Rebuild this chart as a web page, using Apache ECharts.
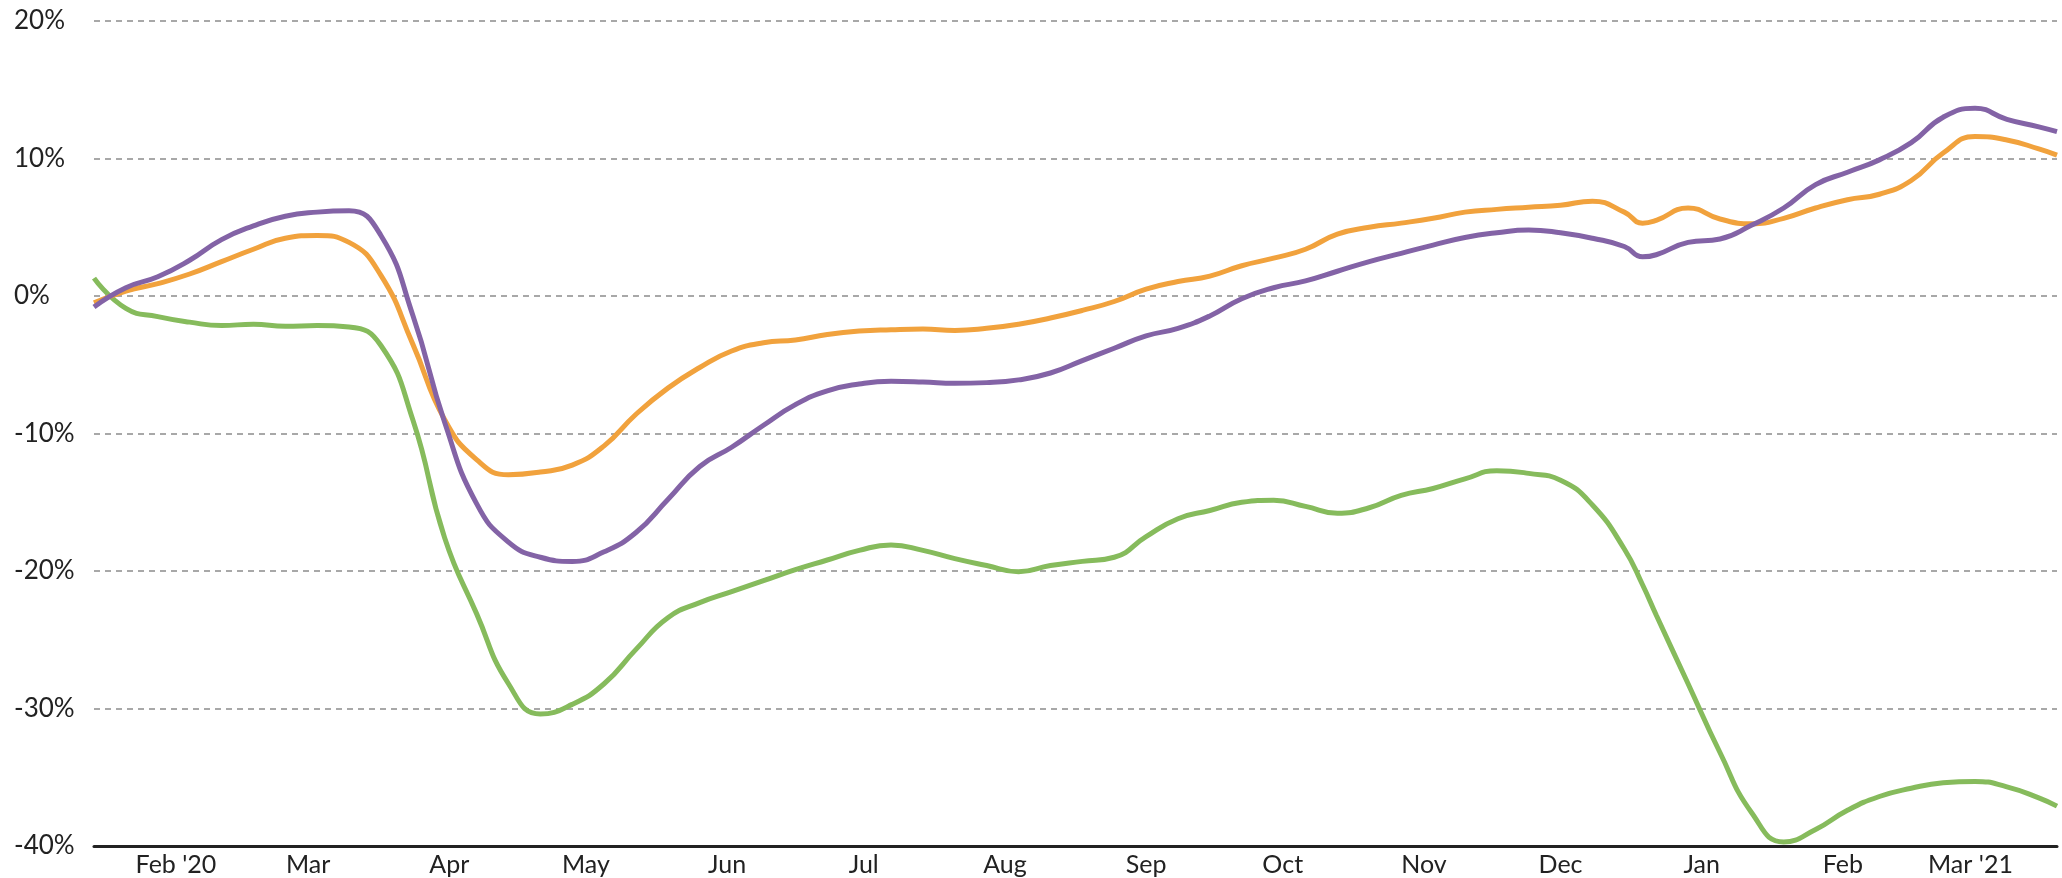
<!DOCTYPE html>
<html>
<head>
<meta charset="utf-8">
<title>chart</title>
<script src="https://cdn.jsdelivr.net/npm/echarts@6/dist/echarts.min.js"></script>
<style>
  html, body { margin: 0; padding: 0; background: #fff; }
  #chart { width: 2062px; height: 878px; }
</style>
</head>
<body>
<div id="chart"></div>
<script>
// weekly sample dates (plus one extra around New Year)
var dates = ['2020-01-28','2020-02-04','2020-02-11','2020-02-18','2020-02-25','2020-03-03','2020-03-10','2020-03-17','2020-03-24','2020-03-31',
  '2020-04-07','2020-04-14','2020-04-21','2020-04-28','2020-05-05','2020-05-12','2020-05-19','2020-05-26','2020-06-02','2020-06-09',
  '2020-06-16','2020-06-23','2020-06-30','2020-07-07','2020-07-14','2020-07-21','2020-07-28','2020-08-04','2020-08-11','2020-08-18',
  '2020-08-25','2020-09-01','2020-09-08','2020-09-15','2020-09-22','2020-09-29','2020-10-06','2020-10-13','2020-10-20','2020-10-27',
  '2020-11-03','2020-11-10','2020-11-17','2020-11-24','2020-12-01','2020-12-08','2020-12-15','2020-12-22','2020-12-29','2021-01-02',
  '2021-01-05','2021-01-12','2021-01-19','2021-01-26','2021-02-02','2021-02-09','2021-02-16','2021-02-23','2021-03-02','2021-03-09',
  '2021-03-16','2021-03-23','2021-03-30','2021-04-03'];

var purple = [-0.8,0.6,1.4,2.6,4.1,5.1,5.8,6.1,6.2,4.4,
  -1.4,-9.2,-15.1,-17.9,-19.0,-19.3,-18.6,-17.2,-14.8,-12.4,
  -11.0,-9.4,-7.9,-6.9,-6.4,-6.2,-6.25,-6.35,-6.3,-6.1,
  -5.6,-4.7,-3.8,-2.9,-2.35,-1.45,-0.2,0.6,1.1,1.8,
  2.5,3.1,3.7,4.25,4.6,4.8,4.6,4.2,3.6,2.85,
  3.0,3.9,4.15,5.16,6.4,8.1,9.0,9.9,11.15,13.0,
  13.65,12.85,12.3,11.95];

var orange = [-0.5,0.35,0.9,1.6,2.5,3.4,4.2,4.4,3.9,1.5,
  -3.5,-9.0,-11.9,-13.0,-12.8,-12.3,-10.9,-8.6,-6.7,-5.2,
  -4.0,-3.4,-3.2,-2.8,-2.55,-2.45,-2.4,-2.5,-2.35,-2.05,
  -1.6,-1.05,-0.4,0.5,1.05,1.45,2.2,2.75,3.4,4.5,
  5.0,5.3,5.65,6.1,6.3,6.45,6.6,6.9,6.1,5.3,
  5.5,6.4,5.6,5.25,5.65,6.4,7.0,7.4,8.4,10.4,
  11.6,11.35,10.7,10.25];

var green = [1.3,-0.9,-1.5,-1.9,-2.15,-2.05,-2.2,-2.15,-2.25,-3.6,
  -9.0,-17.6,-23.1,-28.2,-30.4,-29.7,-28.2,-25.7,-23.4,-22.3,
  -21.5,-20.7,-19.9,-19.2,-18.5,-18.1,-18.5,-19.1,-19.6,-20.05,
  -19.6,-19.3,-19.0,-17.5,-16.2,-15.6,-15.0,-14.85,-15.3,-15.8,
  -15.4,-14.5,-14.0,-13.3,-12.7,-12.9,-13.4,-15.2,-18.4,-21.0,
  -23.2,-28.2,-33.2,-37.6,-39.7,-38.8,-37.4,-36.4,-35.8,-35.4,
  -35.3,-35.7,-36.5,-37.1];

// month labels sit at mid-month
var tickDates = ['2020-02-15','2020-03-15','2020-04-15','2020-05-15','2020-06-15','2020-07-15','2020-08-15',
  '2020-09-15','2020-10-15','2020-11-15','2020-12-15','2021-01-15','2021-02-15','2021-03-15'];
var tickLabels = ["Feb '20",'Mar','Apr','May','Jun','Jul','Aug','Sep','Oct','Nov','Dec','Jan','Feb',"Mar '21"];

function toTime(s) {
  return new Date(s + 'T00:00:00').getTime();
}
var tickTimes = tickDates.map(toTime);

function pairs(vals) {
  return dates.map(function (d, i) { return [toTime(d), vals[i]]; });
}

var font = 'Lato, "Open Sans", sans-serif';

var myChart = echarts.init(document.getElementById('chart'));
var option = {
  animation: false,
  grid: { left: 94, right: 5, top: 21, bottom: 32 },
  xAxis: {
    type: 'value',
    min: toTime(dates[0]),
    max: toTime(dates[dates.length - 1]),
    axisLine: { show: true, onZero: false, lineStyle: { color: '#222', width: 3 } },
    axisTick: { show: false },
    splitLine: { show: false },
    axisLabel: {
      customValues: tickTimes,
      formatter: function (v) {
        var best = 0;
        for (var i = 1; i < tickTimes.length; i++) {
          if (Math.abs(tickTimes[i] - v) < Math.abs(tickTimes[best] - v)) best = i;
        }
        return tickLabels[best];
      },
      showMinLabel: true,
      showMaxLabel: true,
      color: '#222',
      fontSize: 25,
      fontFamily: font,
      margin: 6,
      hideOverlap: false
    }
  },
  yAxis: {
    type: 'value',
    min: -40,
    max: 20,
    interval: 10,
    axisLine: { show: false },
    axisTick: { show: false },
    splitLine: { lineStyle: { color: '#a8a8a8', width: 2, type: [6, 5] } },
    axisLabel: {
      formatter: '{value}%',
      color: '#222',
      fontSize: 26,
      fontFamily: font,
      align: 'left',
      margin: 80
    }
  },
  series: [
    {
      name: 'green', type: 'line', data: pairs(green), smooth: 0.5, showSymbol: false,
      lineStyle: { color: '#86bb5c', width: 5 }, itemStyle: { color: '#86bb5c' }
    },
    {
      name: 'orange', type: 'line', data: pairs(orange), smooth: 0.5, showSymbol: false,
      lineStyle: { color: '#f1a23d', width: 5 }, itemStyle: { color: '#f1a23d' }
    },
    {
      name: 'purple', type: 'line', data: pairs(purple), smooth: 0.5, showSymbol: false,
      lineStyle: { color: '#8363a6', width: 5 }, itemStyle: { color: '#8363a6' }
    }
  ]
};
myChart.setOption(option);
</script>
</body>
</html>
